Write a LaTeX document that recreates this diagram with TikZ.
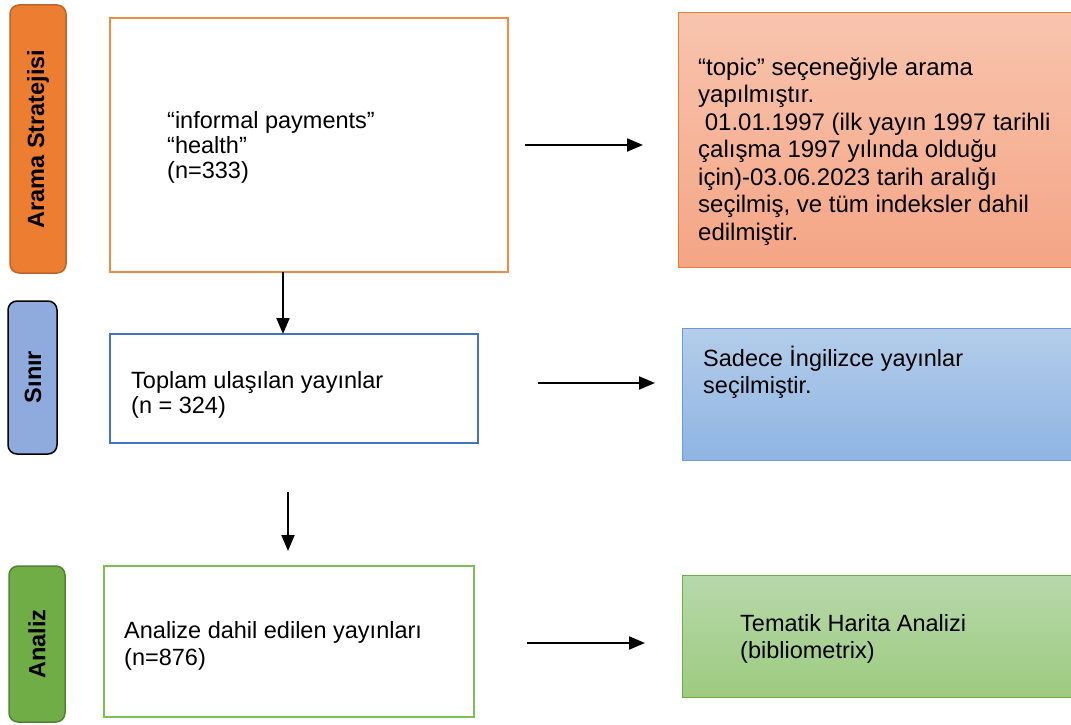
\documentclass[tikz,border=0pt]{standalone}
\usepackage{fontspec}
\setmainfont{Liberation Sans}
\usetikzlibrary{arrows.meta}
\definecolor{orlab}{HTML}{ED7D31}
\definecolor{orlabd}{HTML}{B9652B}
\definecolor{orline}{HTML}{F08A44}
\definecolor{bllab}{HTML}{8FAADC}
\definecolor{blline}{HTML}{4472C4}
\definecolor{grlab}{HTML}{70AD47}
\definecolor{grlabd}{HTML}{548235}
\definecolor{grline}{HTML}{7EBF55}
\definecolor{ortop}{HTML}{F8C4AE}
\definecolor{orbot}{HTML}{F4A585}
\definecolor{bltop}{HTML}{B4CDEA}
\definecolor{blbot}{HTML}{8EB4E3}
\definecolor{blbord}{HTML}{6E9BD8}
\definecolor{grtop}{HTML}{B7D8AA}
\definecolor{grbot}{HTML}{9DCB80}
\tikzset{
  lab/.style={rounded corners=9pt, line width=1.5pt},
  labtext/.style={rotate=90, font=\fontsize{23.5}{26}\selectfont\bfseries, inner sep=0pt},
  mbox/.style={line width=1.5pt},
  txt/.style={font=\fontsize{23.5}{25}\selectfont, align=left, anchor=north west, inner sep=0pt},
  txtb/.style={font=\fontsize{23.5}{27}\selectfont, align=left, anchor=north west, inner sep=0pt},
  rtxt/.style={font=\fontsize{24}{27.5}\selectfont, align=left, anchor=north west, inner sep=0pt},
  arr/.style={line width=2pt, -{Triangle[length=16pt,width=13pt]}}
}
\begin{document}
\begin{tikzpicture}[x=1pt,y=-1pt]
\clip (0,0) rectangle (1071,725);
\useasboundingbox (0,0) rectangle (1071,725);
% left labels
\draw[lab, fill=orlab, draw=orlabd] (10,5) rectangle (66,273);
\node[labtext] (l1) at (38,139) {Arama Stratejisi};
\draw[lab, fill=bllab, draw=black] (8,301) rectangle (57,454);
\node[labtext] (l2) at (33,377) {Sınır};
\draw[lab, fill=grlab, draw=grlabd] (9,566) rectangle (65,722);
\node[labtext] (l3) at (37,644) {Analiz};
% middle boxes
\draw[mbox, draw=orline] (110,18) rectangle (508,272);
\coordinate (b1s) at (283,272);
\node[txt] (t1) at (167,111.5) {“informal payments”\\“health”\\(n=333)};
\draw[mbox, draw=blline] (110,334) rectangle (478,443);
\coordinate (b2n) at (283,334);
\node[txt] (t2) at (131,371.5) {Toplam ulaşılan yayınlar\\(n = 324)};
\draw[mbox, draw=grline] (104,566) rectangle (474,717);
\node[txtb] (t3) at (124,621.5) {Analize dahil edilen yayınları\\(n=876)};
% right boxes
\draw[line width=1pt, draw=orlab, top color=ortop, bottom color=orbot] (678,13) rectangle (1080,267);
\node[rtxt] (r1) at (698,57.5) {“topic” seçeneğiyle arama\\yapılmıştır.\\\ 01.01.1997 (ilk yayın 1997 tarihli\\çalışma 1997 yılında olduğu\\için)-03.06.2023 tarih aralığı\\seçilmiş, ve tüm indeksler dahil\\edilmiştir.};
\draw[line width=1pt, draw=blbord, top color=bltop, bottom color=blbot] (682,328) rectangle (1080,460);
\node[txtb] (r2) at (703,345.5) {Sadece İngilizce yayınlar\\seçilmiştir.};
\draw[line width=1pt, draw=grlab, top color=grtop, bottom color=grbot] (682,575) rectangle (1080,697);
\node[txtb] (r3) at (740,614.5) {Tematik Harita Analizi\\(bibliometrix)};
% arrows
\coordinate (a1s) at (525,145); \coordinate (a1e) at (643,145);
\coordinate (a2s) at (538,383); \coordinate (a2e) at (655,383);
\coordinate (a3s) at (527,643); \coordinate (a3e) at (645,643);
\coordinate (v2s) at (288,492); \coordinate (v2e) at (288,551);
\draw[arr] (a1s) -- (a1e);
\draw[arr] (a2s) -- (a2e);
\draw[arr] (a3s) -- (a3e);
\draw[arr] (b1s) -- (b2n);
\draw[arr] (v2s) -- (v2e);
\end{tikzpicture}
\end{document}
